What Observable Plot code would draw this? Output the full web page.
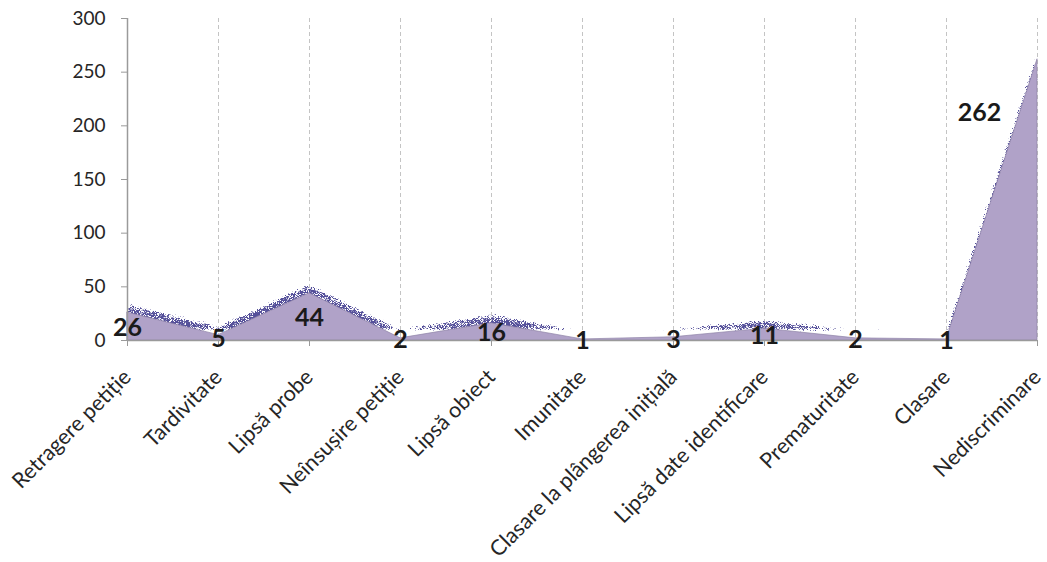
<!DOCTYPE html>
<html>
<head>
<meta charset="utf-8">
<script src="https://cdn.jsdelivr.net/npm/d3@7"></script>
<script src="https://cdn.jsdelivr.net/npm/@observablehq/plot@0.6"></script>
<style>
  html, body { margin: 0; padding: 0; background: #fff; }
  #chart { width: 1047px; height: 562px; }
</style>
</head>
<body>
<div id="chart"></div>
<script>
const categories = [
  "Retragere petiție", "Tardivitate", "Lipsă probe", "Neînsușire petiție",
  "Lipsă obiect", "Imunitate", "Clasare la plângerea inițială",
  "Lipsă date identificare", "Prematuritate", "Clasare", "Nediscriminare"
];
const values = [26, 5, 44, 2, 16, 1, 3, 11, 2, 1, 262];
const yTicks = [0, 50, 100, 150, 200, 250, 300];

const data = categories.map((c, i) => ({cat: c, v: values[i], i}));
const FONT = "Lato, 'Open Sans', sans-serif";

const chart = Plot.plot({
  width: 1047,
  height: 562,
  marginLeft: 127,
  marginRight: 10,
  marginTop: 18,
  marginBottom: 222,
  style: {fontFamily: FONT, background: "#fff", color: "#262626"},
  x: {type: "point", domain: categories, padding: 0},
  y: {domain: [0, 300]},
  marks: [
    Plot.ruleX(categories.slice(1), {stroke: "#c4c4c4", strokeDasharray: "4,3"}),
    Plot.areaY(data, {x: "cat", y: "v", fill: "#000", dy: -9, curve: "linear"}),
    Plot.areaY(data, {x: "cat", y: "v", fill: "#b0a2c8", stroke: "#8f84a8", strokeWidth: 0.7, curve: "linear"}),
    Plot.ruleX([categories[0]], {stroke: "#9a9a9a", strokeWidth: 1.5}),
    Plot.ruleY([0], {stroke: "#9a9a9a", strokeWidth: 1.5}),
    Plot.axisY({ticks: yTicks, tickSize: 6, tickPadding: 16, fontSize: 19, stroke: "#9a9a9a", label: null}),
    Plot.axisX({tickRotate: -45, tickSize: 6, tickPadding: 27, fontSize: 21.5, stroke: "#9a9a9a", label: null}),
    Plot.text(data.filter(d => d.i < 10), {x: "cat", y: d => d.v / 2, text: d => String(d.v), fontWeight: "bold", fontSize: 25, fill: "#1a1a1a", dy: 1}),
    Plot.text(data.filter(d => d.i === 10), {x: "cat", y: d => d.v / 2, text: d => String(d.v), fontWeight: "bold", fontSize: 25, fill: "#1a1a1a", dx: -58, dy: -87})
  ]
});

const ns = "http://www.w3.org/2000/svg";
const defs = document.createElementNS(ns, "defs");
defs.innerHTML = `
  <filter id="dither" x="-50" y="-50" width="1150" height="700" filterUnits="userSpaceOnUse" color-interpolation-filters="sRGB">
    <feGaussianBlur in="SourceAlpha" stdDeviation="2.2" result="blur"/>
    <feTurbulence type="fractalNoise" baseFrequency="1.6" numOctaves="1" seed="7" result="noise"/>
    <feColorMatrix in="noise" type="matrix" values="0 0 0 0 0  0 0 0 0 0  0 0 0 0 0  1 0 0 0 0" result="noiseA"/>
    <feComposite in="blur" in2="noiseA" operator="arithmetic" k1="0" k2="6.2" k3="-10" k4="0" result="d"/>
    <feFlood flood-color="#55509a" result="c"/>
    <feComposite in="c" in2="d" operator="in"/>
  </filter>`;
chart.insertBefore(defs, chart.firstChild);
const areas = chart.querySelectorAll('g[aria-label="area"]');
if (areas.length) areas[0].setAttribute("filter", "url(#dither)");
document.getElementById("chart").appendChild(chart);
</script>
</body>
</html>
